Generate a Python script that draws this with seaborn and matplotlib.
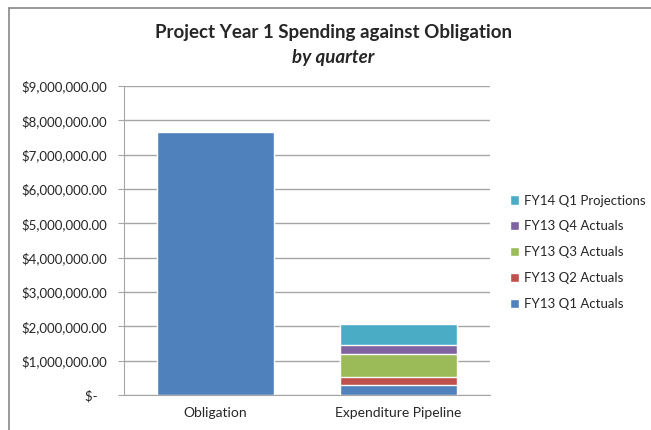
import numpy as np
import pandas as pd
import seaborn as sns
import matplotlib.pyplot as plt
from matplotlib.patches import Patch
from matplotlib.lines import Line2D
from matplotlib.ticker import FuncFormatter

# data
categories = ["Obligation", "Expenditure Pipeline"]
obligation = [7650000]
quarters = ["FY13 Q1 Actuals", "FY13 Q2 Actuals", "FY13 Q3 Actuals", "FY13 Q4 Actuals", "FY14 Q1 Projections"]
quarter_values = [280000, 235000, 670000, 280000, 595000]
colors = ["#4F81BD", "#C0504D", "#9BBB59", "#8064A2", "#4BACC6"]

sns.set_style("white")
plt.rcParams["font.family"] = ["Lato", "DejaVu Sans"]

fig = plt.figure(figsize=(6.51, 4.30), dpi=100)
ax = fig.add_axes([0.1905, 0.0814, 0.562, 0.7186])

# obligation bar
df_obl = pd.DataFrame({"cat": ["Obligation"], "val": obligation})
sns.barplot(data=df_obl, x="cat", y="val", order=categories, color=colors[0],
            width=0.64, saturation=1, ax=ax)

# stacked expenditure pipeline: draw cumulative totals, largest first
cum = np.cumsum(quarter_values)
for i in range(len(quarters) - 1, -1, -1):
    df_q = pd.DataFrame({"cat": ["Expenditure Pipeline"], "val": [cum[i]]})
    sns.barplot(data=df_q, x="cat", y="val", order=categories, color=colors[i],
                width=0.64, saturation=1, ax=ax)

ax.set_ylim(0, 9000000)
ax.set_yticks(np.arange(0, 9000001, 1000000))
ax.yaxis.set_major_formatter(FuncFormatter(lambda v, p: "$-   " if v == 0 else "${:,.2f}".format(v)))
ax.grid(axis="y", color="#A6A6A6", linewidth=1)
ax.set_axisbelow(True)
ax.set_xlabel("")
ax.set_ylabel("")
for s in ["top", "right"]:
    ax.spines[s].set_visible(False)
for s in ["left", "bottom"]:
    ax.spines[s].set_color("#A6A6A6")
ax.tick_params(axis="y", length=4, color="#A6A6A6", labelsize=9.5, pad=8, direction="out", left=True)
ax.tick_params(axis="x", length=0, labelsize=10, pad=9)

# legend
handles = [Patch(facecolor=colors[i], label=quarters[i]) for i in range(len(quarters) - 1, -1, -1)]
fig.legend(handles=handles, loc="upper left", bbox_to_anchor=(0.765, 0.575), frameon=False,
           fontsize=9.5, handlelength=0.7, handleheight=0.7, handletextpad=0.4, labelspacing=1.05)

# title
fig.text(0.512, 0.925, "Project Year 1 Spending against Obligation", ha="center", va="center",
         fontsize=13.5, fontweight="bold")
fig.text(0.512, 0.866, "by quarter", ha="center", va="center",
         fontsize=13.5, fontweight="bold", style="italic")

# chart border (top and left edges visible)
x0, y0 = 8.5 / 651, 1 - 7.5 / 430
fig.lines.append(Line2D([x0, 1.0], [y0, y0], transform=fig.transFigure, color="#888888", linewidth=1.2))
fig.lines.append(Line2D([x0, x0], [0.0, y0], transform=fig.transFigure, color="#888888", linewidth=1.2))

fig.savefig("out.png", dpi=100)
